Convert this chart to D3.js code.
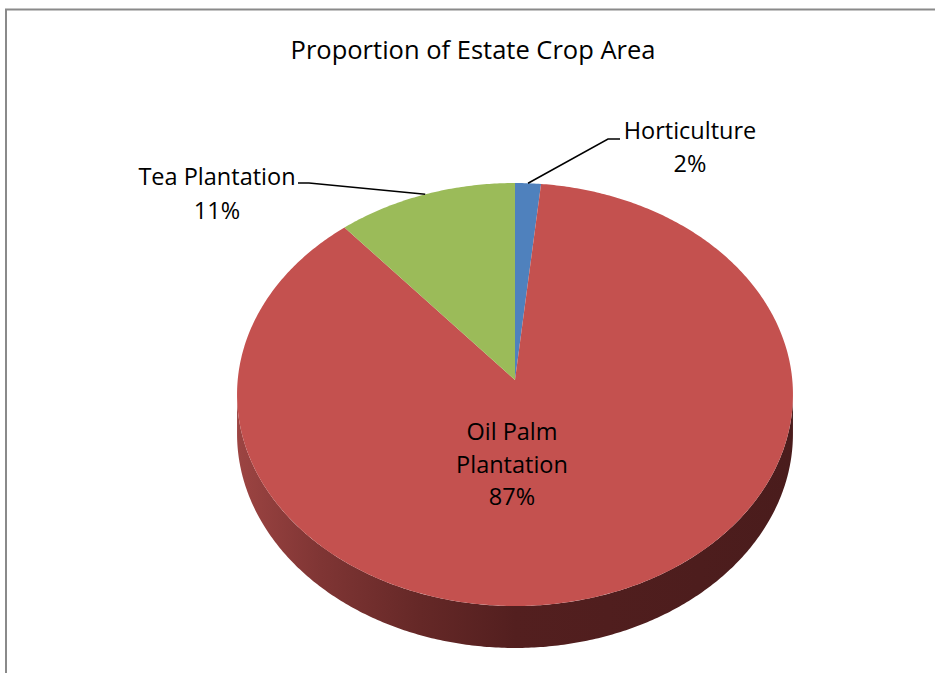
<!DOCTYPE html>
<html>
<head>
<meta charset="utf-8">
<script src="https://cdn.jsdelivr.net/npm/d3@7"></script>
<style>
  html, body { margin: 0; padding: 0; background: #fff; }
  svg { display: block; }
  text { font-family: "Open Sans", Lato, sans-serif; fill: #000; font-variant-ligatures: none; }
</style>
</head>
<body>
<svg id="chart" width="935" height="673"></svg>
<script>
// ---- Data ----
const title = "Proportion of Estate Crop Area";
const categories = ["Horticulture", "Oil Palm Plantation", "Tea Plantation"];
const values = [1.6, 87.2, 11.2];
const percentLabels = ["2%", "87%", "11%"];
const colors = ["#4F81BD", "#C4514F", "#9BBB59"];

// ---- Layout ----
const svg = d3.select("#chart");

svg.append("rect").attr("x", 6).attr("y", 9.5).attr("width", 1000).attr("height", 1000)
  .attr("fill", "#fff").attr("stroke", "#8a8a8a").attr("stroke-width", 2);

svg.append("text").attr("x", 473).attr("y", 59).attr("text-anchor", "middle")
  .style("font-size", "25.5px").text(title);

// perspective projection of the pie disk
const cx = 515, cy = 380, A = 277.3, B = 210.5, k = 0.0686, D = 39.1;
function proj(theta, drop) {
  const u = Math.sin(theta), v = -Math.cos(theta);
  const w = 1 - k * v;
  return [cx + A * u / w, cy + B * v / w + (drop ? D / w : 0)];
}
function sample(a0, a1, drop) {
  const n = Math.max(2, Math.ceil(Math.abs(a1 - a0) / 0.01));
  return d3.range(n + 1).map(i => proj(a0 + (a1 - a0) * i / n, drop));
}

const pie = d3.pie().sort(null).value(d => d).startAngle(0).endAngle(2 * Math.PI);
const arcs = pie(values);
const line = d3.line();

const defs = svg.append("defs");
const grad = defs.append("linearGradient").attr("id", "sideGrad")
  .attr("gradientUnits", "userSpaceOnUse").attr("x1", cx - A).attr("x2", cx + A).attr("y1", 0).attr("y2", 0);
[[0, "#9c4442"], [0.15, "#7f3534"], [0.33, "#652827"], [0.5, "#531f1f"], [1, "#4a1c1c"]]
  .forEach(([o, c]) => grad.append("stop").attr("offset", o).attr("stop-color", c));

const frontStart = Math.acos(-k), frontEnd = 2 * Math.PI - Math.acos(-k);

const g = svg.append("g");
arcs.forEach((a, i) => {
  const s = Math.max(a.startAngle, frontStart), e = Math.min(a.endAngle, frontEnd);
  if (e <= s) return;
  const top = sample(s, e, false);
  const bot = sample(e, s, true);
  g.append("path").attr("d", line(top.concat(bot)) + "Z")
    .attr("fill", i === 1 ? "url(#sideGrad)" : d3.color(colors[i]).darker(1.5));
});
arcs.forEach((a, i) => {
  const pts = [[cx, cy]].concat(sample(a.startAngle, a.endAngle, false));
  g.append("path").attr("d", line(pts) + "Z").attr("fill", colors[i]);
});

// ---- Labels ----
const fs = "23.5px";
{
  const a = arcs[0], m = (a.startAngle + a.endAngle) / 2, p = proj(m, false);
  svg.append("path").attr("d", line([p, [608, 139], [620, 139]]))
    .attr("fill", "none").attr("stroke", "#000").attr("stroke-width", 1.5);
  svg.append("text").attr("x", 690).attr("y", 139).attr("text-anchor", "middle").style("font-size", fs).text(categories[0]);
  svg.append("text").attr("x", 690).attr("y", 172).attr("text-anchor", "middle").style("font-size", fs).text(percentLabels[0]);
}
{
  const a = arcs[2], m = (a.startAngle + a.endAngle) / 2, p = proj(m, false);
  svg.append("path").attr("d", line([[298, 183], [309, 183], p]))
    .attr("fill", "none").attr("stroke", "#000").attr("stroke-width", 1.5);
  svg.append("text").attr("x", 217).attr("y", 185).attr("text-anchor", "middle").style("font-size", fs).text(categories[2]);
  svg.append("text").attr("x", 217).attr("y", 219).attr("text-anchor", "middle").style("font-size", fs).text(percentLabels[2]);
}
{
  const t = svg.append("text").attr("text-anchor", "middle").style("font-size", fs);
  [["Oil Palm", 440], ["Plantation", 473], [percentLabels[1], 505]].forEach(([s, y]) =>
    t.append("tspan").attr("x", 512).attr("y", y).text(s));
}
</script>
</body>
</html>
